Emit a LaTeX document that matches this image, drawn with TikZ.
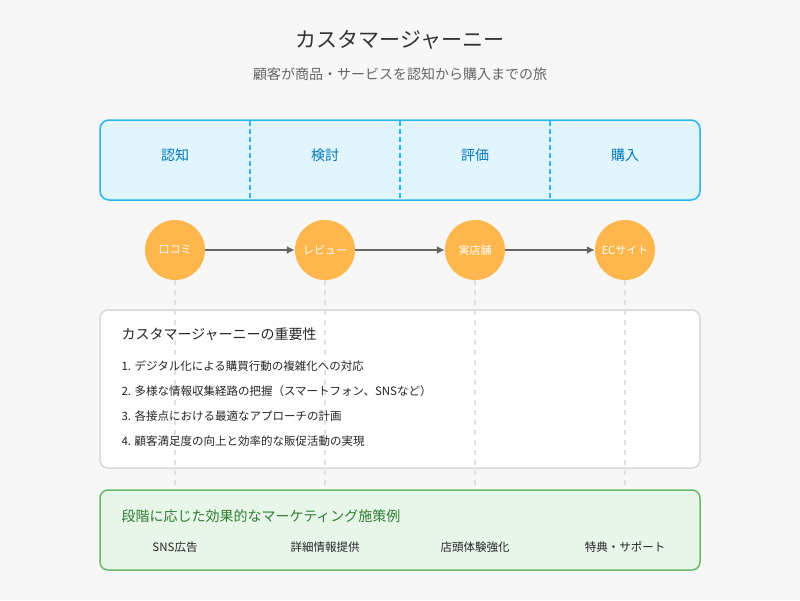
\documentclass[tikz,border=0pt]{standalone}
\usepackage{fontspec}
\setmainfont{Noto Sans CJK JP}
\usetikzlibrary{arrows.meta}
\definecolor{bluebd}{HTML}{29B6F6}
\definecolor{bluefill}{HTML}{E1F5FE}
\definecolor{bluetxt}{HTML}{0277BD}
\definecolor{orng}{HTML}{FFB74D}
\definecolor{grnbd}{HTML}{66BB6A}
\definecolor{grnfill}{HTML}{E8F5E9}
\definecolor{grntxt}{HTML}{2E7D32}
\begin{document}
\begin{tikzpicture}[x=1pt,y=-1pt,
  stage/.style={font=\fontsize{14}{16}\selectfont,text=bluetxt},
  dot/.style={circle,fill=orng,minimum size=60pt,inner sep=0pt,text=white,font=\fontsize{11}{13}\selectfont},
  flow/.style={draw=black!60,line width=1.5pt,-{Latex[length=8pt,width=8pt]}},
  guide/.style={draw=black!12,line width=1.5pt,dash pattern=on 5pt off 5pt},
  item/.style={anchor=west,font=\fontsize{11.5}{13}\selectfont,text=black!85},
  tact/.style={font=\fontsize{11.5}{13}\selectfont,text=black!85}]
\fill[black!3] (0,0) rectangle (800,600);
\node (title) at (400,40) {\fontsize{21}{24}\selectfont\color{black!80}カスタマージャーニー};
\node (sub) at (400,74) {\fontsize{14}{16}\selectfont\color{black!60}顧客が商品・サービスを認知から購入までの旅};
\draw[draw=bluebd,fill=bluefill,line width=1.5pt,rounded corners=9pt] (100,120) rectangle (700,200);
\foreach \x in {250,400,550}\draw[draw=bluebd,line width=1.5pt,dash pattern=on 5pt off 3pt] (\x,121) -- (\x,199);
\node[stage] (s1) at (175,155) {認知};
\node[stage] (s2) at (325,155) {検討};
\node[stage] (s3) at (475,155) {評価};
\node[stage] (s4) at (625,155) {購入};
\draw[draw=black!15,fill=white,line width=1.5pt,rounded corners=8pt] (100,310) rectangle (700,468);
\draw[draw=grnbd,fill=grnfill,line width=1.5pt,rounded corners=8pt] (100,490) rectangle (700,570);
\node[dot] (c1) at (175,250) {口コミ};
\node[dot] (c2) at (325,250) {レビュー};
\node[dot] (c3) at (475,250) {実店舗};
\node[dot] (c4) at (625,250) {ECサイト};
\draw[flow] (c1) -- (c2);
\draw[flow] (c2) -- (c3);
\draw[flow] (c3) -- (c4);
\foreach \c/\x in {c1/175,c2/325,c3/475,c4/625}{
  \coordinate (e\c) at (\x,489);
  \draw[guide] (\c.south) -- (e\c);}
\node[anchor=west,font=\fontsize{14}{16}\selectfont,text=black!85] (h) at (118,334) {カスタマージャーニーの重要性};
\node[item] (i1) at (118,366) {1. デジタル化による購買行動の複雑化への対応};
\node[item] (i2) at (118,391) {2. 多様な情報収集経路の把握（スマートフォン、SNSなど）};
\node[item] (i3) at (118,416) {3. 各接点における最適なアプローチの計画};
\node[item] (i4) at (118,441) {4. 顧客満足度の向上と効率的な販促活動の実現};
\node[anchor=west,font=\fontsize{14}{16}\selectfont,text=grntxt] (g) at (118,516) {段階に応じた効果的なマーケティング施策例};
\node[tact] (t1) at (175,547) {SNS広告};
\node[tact] (t2) at (325,547) {詳細情報提供};
\node[tact] (t3) at (475,547) {店頭体験強化};
\node[tact] (t4) at (625,547) {特典・サポート};
\end{tikzpicture}
\end{document}
